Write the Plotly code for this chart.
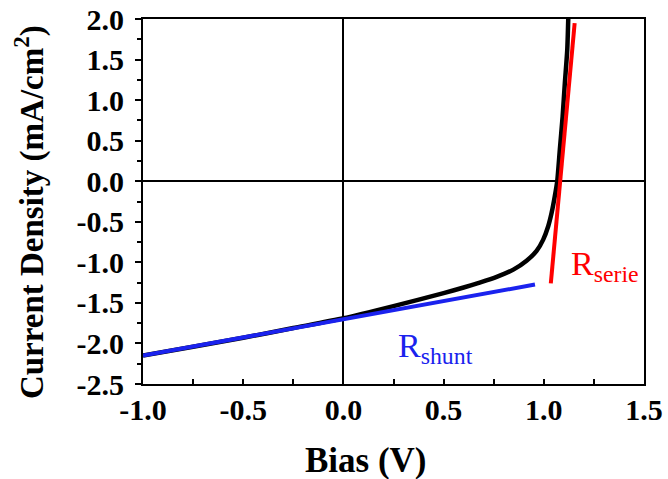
import plotly.graph_objects as go

# J-V curve
bias = [-1.0, -0.75, -0.5, -0.25, 0.0, 0.25, 0.5, 0.6, 0.68, 0.765, 0.848, 0.914,
        0.964, 0.997, 1.022, 1.039, 1.055, 1.067, 1.08, 1.094, 1.105, 1.117, 1.122]
current = [-2.15, -2.04, -1.93, -1.81, -1.69, -1.54, -1.38, -1.31, -1.25, -1.18,
           -1.09, -0.98, -0.86, -0.72, -0.555, -0.39, -0.185, 0.0, 0.39,
           0.80, 1.21, 1.62, 2.0]

# Fitted lines
shunt_x = [-1.0, 0.956]
shunt_y = [-2.15, -1.274]
serie_x = [1.035, 1.154]
serie_y = [-1.26, 1.95]

x_tick_vals = [-1.0, -0.5, 0.0, 0.5, 1.0, 1.5]
x_tick_labels = ["-1.0", "-0.5", "0.0", "0.5", "1.0", "1.5"]
y_tick_vals = [-2.5, -2.0, -1.5, -1.0, -0.5, 0.0, 0.5, 1.0, 1.5, 2.0]
y_tick_labels = ["-2.5", "-2.0", "-1.5", "-1.0", "-0.5", "0.0", "0.5", "1.0", "1.5", "2.0"]

FONT = "Liberation Serif"
BLUE = "#1a22ee"
RED = "#ff0000"

fig = go.Figure()
fig.add_trace(go.Scatter(x=bias, y=current, mode="lines",
                         line=dict(color="black", width=4.5, shape="spline", smoothing=0.6),
                         showlegend=False, hoverinfo="skip"))
fig.add_trace(go.Scatter(x=shunt_x, y=shunt_y, mode="lines",
                         line=dict(color=BLUE, width=4), showlegend=False, hoverinfo="skip"))
fig.add_trace(go.Scatter(x=serie_x, y=serie_y, mode="lines",
                         line=dict(color=RED, width=4), showlegend=False, hoverinfo="skip"))

tickfont = dict(family=FONT, size=30, color="black", weight="bold")

fig.update_layout(
    width=668, height=479,
    margin=dict(l=143, r=24, t=19, b=95, autoexpand=False),
    plot_bgcolor="white", paper_bgcolor="white",
    font=dict(family=FONT, color="black"),
    xaxis=dict(
        range=[-1.0, 1.5], tickvals=x_tick_vals, ticktext=x_tick_labels,
        tickfont=tickfont, ticks="inside", ticklen=5, tickwidth=1.5, tickcolor="black",
        minor=dict(tickvals=[-0.75, -0.25, 0.25, 0.75, 1.25], ticks="inside",
                   ticklen=5, tickwidth=1.5, tickcolor="black"),
        showline=True, linecolor="black", linewidth=2, mirror=True,
        showgrid=False, zeroline=True, zerolinecolor="black", zerolinewidth=1.5,
        ticklabelstandoff=-2, automargin=False,
    ),
    xaxis2=dict(
        range=[-1.0, 1.5], overlaying="x", side="top", anchor="y",
        tickvals=[-1.0, -0.75, -0.5, -0.25, 0.0, 0.25, 0.5, 0.75, 1.0, 1.25, 1.5],
        showticklabels=False, ticks="outside", ticklen=6, tickwidth=1.5, tickcolor="black",
        showline=False, showgrid=False, zeroline=False, automargin=False,
    ),
    yaxis=dict(
        range=[-2.5, 2.0], tickvals=y_tick_vals, ticktext=y_tick_labels,
        tickfont=tickfont, ticks="outside", ticklen=6, tickwidth=1.5, tickcolor="black",
        minor=dict(tickvals=[-2.25, -1.75, -1.25, -0.75, -0.25, 0.25, 0.75, 1.25, 1.75],
                   ticks="outside", ticklen=4, tickwidth=1.5, tickcolor="black"),
        showline=True, linecolor="black", linewidth=2, mirror=True,
        showgrid=False, zeroline=True, zerolinecolor="black", zerolinewidth=1.5,
        ticklabelstandoff=5, automargin=False,
    ),
    annotations=[
        dict(text="<b>Bias (V)</b>", xref="paper", yref="paper", x=0.445, y=-0.21,
             xanchor="center", yanchor="middle", showarrow=False,
             font=dict(family=FONT, size=35, color="black")),
        dict(text="<b>Current Density (mA/cm<sup>2</sup>)</b>", xref="paper", yref="paper",
             x=-0.2275, y=0.471, xanchor="center", yanchor="middle", textangle=-90,
             showarrow=False, font=dict(family=FONT, size=33, color="black")),
        dict(text="R<sub>serie</sub>", xref="x", yref="y", x=1.127, y=-1.05,
             xanchor="left", yanchor="middle", showarrow=False,
             font=dict(family=FONT, size=34, color=RED)),
        dict(text="R<sub>shunt</sub>", xref="x", yref="y", x=0.262, y=-2.06,
             xanchor="left", yanchor="middle", showarrow=False,
             font=dict(family=FONT, size=34, color=BLUE)),
    ],
)

fig.write_html("out.html", config={"displayModeBar": False},
               post_script="document.body.style.margin='0';document.body.style.overflow='hidden';")
